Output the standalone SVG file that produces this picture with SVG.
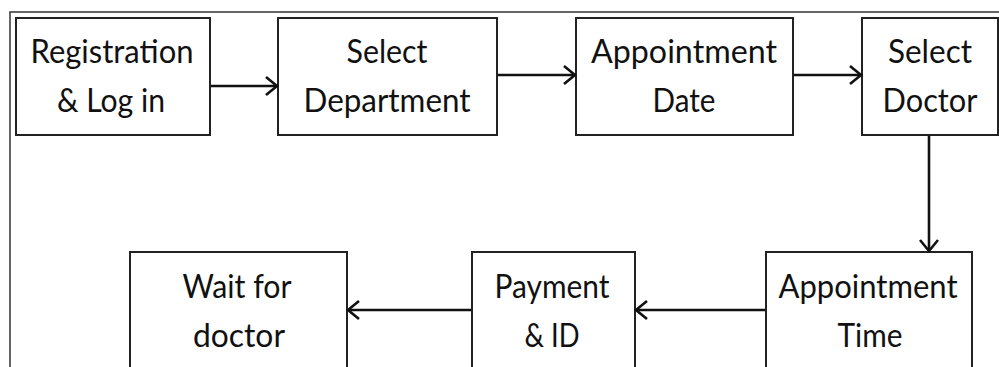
<svg xmlns="http://www.w3.org/2000/svg" width="999" height="367" viewBox="0 0 999 367">
<style>
.box{fill:#fff;stroke:#222;stroke-width:2}
.frame{fill:none;stroke:#333;stroke-width:1.5}
.t{font-family:Lato,"Liberation Sans",sans-serif;font-size:32.5px;fill:#111;text-anchor:middle}
.c{stroke:#111;stroke-width:2.6;fill:none}
</style>
<defs>
<marker id="ah" markerUnits="userSpaceOnUse" viewBox="0 0 16 22" markerWidth="16" markerHeight="22" refX="13" refY="11" orient="auto">
<path d="M2,2 L13,11 L2,20" fill="none" stroke="#111" stroke-width="2.6"/>
</marker>
</defs>
<rect width="999" height="367" fill="#fff"/>
<path class="frame" d="M10,367 V12 H999"/>
<g id="n1"><rect class="box" x="16" y="18" width="194" height="117"/>
<text class="t" x="112" y="63" textLength="163" lengthAdjust="spacingAndGlyphs">Registration</text>
<text class="t" x="111" y="112" textLength="108" lengthAdjust="spacingAndGlyphs">&amp; Log in</text></g>
<g id="n2"><rect class="box" x="278" y="18" width="219" height="117"/>
<text class="t" x="387" y="63" textLength="81" lengthAdjust="spacingAndGlyphs">Select</text>
<text class="t" x="387" y="112" textLength="167" lengthAdjust="spacingAndGlyphs">Department</text></g>
<g id="n3"><rect class="box" x="576" y="18" width="217" height="117"/>
<text class="t" x="684" y="63" textLength="186" lengthAdjust="spacingAndGlyphs">Appointment</text>
<text class="t" x="684" y="112" textLength="63" lengthAdjust="spacingAndGlyphs">Date</text></g>
<g id="n4"><rect class="box" x="862" y="18" width="136" height="117"/>
<text class="t" x="930" y="63" textLength="84" lengthAdjust="spacingAndGlyphs">Select</text>
<text class="t" x="930" y="112" textLength="95" lengthAdjust="spacingAndGlyphs">Doctor</text></g>
<g id="n5"><rect class="box" x="766" y="252" width="206" height="130"/>
<text class="t" x="868" y="298" textLength="179" lengthAdjust="spacingAndGlyphs">Appointment</text>
<text class="t" x="870" y="347" textLength="65" lengthAdjust="spacingAndGlyphs">Time</text></g>
<g id="n6"><rect class="box" x="472" y="252" width="163" height="130"/>
<text class="t" x="552" y="298" textLength="115" lengthAdjust="spacingAndGlyphs">Payment</text>
<text class="t" x="552" y="347" textLength="55" lengthAdjust="spacingAndGlyphs">&amp; ID</text></g>
<g id="n7"><rect class="box" x="130" y="252" width="217" height="130"/>
<text class="t" x="237" y="298" textLength="109" lengthAdjust="spacingAndGlyphs">Wait for</text>
<text class="t" x="239" y="347" textLength="92" lengthAdjust="spacingAndGlyphs">doctor</text></g>
<g id="connectors">
<line class="c" x1="211" y1="86" x2="277" y2="86" marker-end="url(#ah)"/>
<line class="c" x1="498" y1="75" x2="575" y2="75" marker-end="url(#ah)"/>
<line class="c" x1="794" y1="75" x2="861" y2="75" marker-end="url(#ah)"/>
<line class="c" x1="929" y1="136" x2="929" y2="251" marker-end="url(#ah)"/>
<line class="c" x1="765" y1="310" x2="636" y2="310" marker-end="url(#ah)"/>
<line class="c" x1="471" y1="310" x2="348" y2="310" marker-end="url(#ah)"/>
</g>
</svg>
